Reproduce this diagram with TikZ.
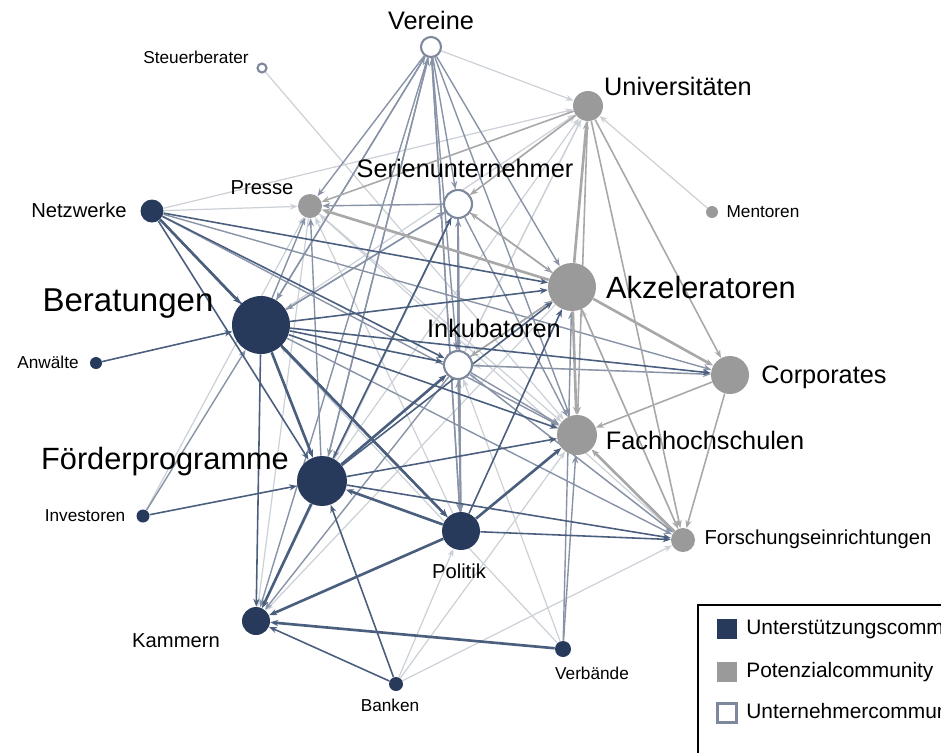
\documentclass[tikz,border=0pt]{standalone}
\usepackage{fontspec}
\setmainfont{Liberation Sans}
\usepackage{tikz}
\usetikzlibrary{arrows.meta,backgrounds}

\definecolor{stuetz}{HTML}{273A5C}
\definecolor{potenz}{HTML}{9A9A9A}
\definecolor{ring}{HTML}{7D889C}
\definecolor{edark}{HTML}{4A5E7E}
\definecolor{emid}{HTML}{8893A7}
\definecolor{egray}{HTML}{A8A8A8}
\definecolor{elight}{HTML}{CCD1D8}

\tikzset{
  dnode/.style={circle, inner sep=0pt, fill=stuetz, minimum size=#1*0.02cm},
  gnode/.style={circle, inner sep=0pt, fill=potenz, minimum size=#1*0.02cm},
  onode/.style={circle, inner sep=0pt, fill=white, draw=ring, line width=1.2pt, minimum size=#1*0.02cm},
  lhuge/.style={font=\fontsize{18.8}{22}\selectfont, inner sep=0pt},
  lbig/.style={font=\fontsize{17.5}{20}\selectfont, inner sep=0pt},
  lmid/.style={font=\fontsize{14.4}{17}\selectfont, inner sep=0pt},
  lsmall/.style={font=\fontsize{11.5}{14}\selectfont, inner sep=0pt},
  llegend/.style={font=\fontsize{11.9}{14}\selectfont, inner sep=0pt, anchor=west},
  ltiny/.style={font=\fontsize{9.8}{12}\selectfont, inner sep=0pt},
  tip/.style={-{Stealth[length=4.5pt,width=3.5pt]}},
  eD/.style={tip, draw=edark, line width=0.9pt},
  eDD/.style={tip, draw=edark, line width=1.5pt},
  eM/.style={tip, draw=emid, line width=0.8pt},
  eG/.style={tip, draw=egray, line width=0.9pt},
  eGG/.style={tip, draw=egray, line width=1.5pt},
  eL/.style={tip, draw=elight, line width=0.7pt}
}

\begin{document}
\begin{tikzpicture}[x=0.02cm, y=-0.02cm]
  \clip (0,0) rectangle (941,752);

  % nodes
  \node[onode=20] (ver)  at (431,47)  {};
  \node[onode=9]  (steu) at (262,68)  {};
  \node[gnode=30] (uni)  at (588,106) {};
  \node[dnode=23] (netz) at (152,211) {};
  \node[gnode=24] (pres) at (310,206) {};
  \node[onode=28] (seri) at (458,204) {};
  \node[gnode=12] (ment) at (712,212) {};
  \node[gnode=48] (akz)  at (572,287) {};
  \node[dnode=58] (ber)  at (261,325) {};
  \node[onode=28] (ink)  at (458,365) {};
  \node[dnode=12] (anw)  at (96,363)  {};
  \node[gnode=38] (corp) at (730,375) {};
  \node[gnode=40] (fh)   at (577,435) {};
  \node[dnode=50] (foe)  at (322,481) {};
  \node[dnode=13] (inv)  at (143,516) {};
  \node[dnode=38] (pol)  at (461,531) {};
  \node[gnode=24] (fors) at (683,540) {};
  \node[dnode=28] (kam)  at (256,621) {};
  \node[dnode=16] (verb) at (563,649) {};
  \node[dnode=14] (bank) at (396,684) {};

  % labels
  \node[lmid]   (ver-l)  at (431,20)  {Vereine};
  \node[ltiny]  (steu-l) at (196,57)  {Steuerberater};
  \node[lmid]   (uni-l)  at (678,86)  {Universitäten};
  \node[lsmall] (netz-l) at (79,210)  {Netzwerke};
  \node[lsmall] (pres-l) at (262,188) {Presse};
  \node[lmid]   (seri-l) at (465,168) {Serienunternehmer};
  \node[ltiny]  (ment-l) at (763,212) {Mentoren};
  \node[lbig]   (akz-l)  at (701,287) {Akzeleratoren};
  \node[lhuge]  (ber-l)  at (128,304) {Beratungen};
  \node[lmid]   (ink-l)  at (494,328) {Inkubatoren};
  \node[ltiny]  (anw-l)  at (48,362)  {Anwälte};
  \node[lmid]   (corp-l) at (824,377) {Corporates};
  \node[lmid]   (fh-l)   at (705,440) {Fachhochschulen};
  \node[lbig]   (foe-l)  at (165,462) {Förderprogramme};
  \node[ltiny]  (inv-l)  at (85,516)  {Investoren};
  \node[lsmall] (pol-l)  at (459,571) {Politik};
  \node[lsmall] (fors-l) at (818,539) {Forschungseinrichtungen};
  \node[lsmall] (kam-l)  at (176,641) {Kammern};
  \node[ltiny]  (verb-l) at (592,673) {Verbände};
  \node[ltiny]  (bank-l) at (390,705) {Banken};

  % connectors
  \begin{scope}[on background layer]
    \foreach \a/\b in {steu/fh, netz/pres, netz/uni, inv/pres, ber/uni, foe/uni,
        pol/pres, verb/ink, verb/ber, bank/fors, bank/pol, bank/fh, pres/kam,
        seri/kam, akz/kam, ment/uni, uni/ink, corp/ink, fors/pres, fors/ink,
        fors/akz, pres/fh, ink/uni, ver/uni, seri/uni}
      \draw[eL] (\a) -- (\b);
    \foreach \a/\b in {ver/pres, ver/ber, ver/foe, ver/seri, ver/ink, ver/pol,
        ver/akz, ver/fh, ver/kam, seri/pres, seri/akz, seri/fh, seri/ber,
        seri/foe, seri/pol, ink/akz, ink/fh, ink/corp, ink/pol, ink/fors,
        ink/kam, netz/corp, netz/fh, inv/ber, ber/pres, ber/seri, ber/ver,
        ber/fors, foe/pres, foe/ver, pol/ink, pol/seri, pol/ver, verb/fh,
        verb/akz}
      \draw[eM] (\a) -- (\b);
    \draw[eM, line width=1.4pt] (seri) -- (ink);
    \foreach \a/\b in {uni/pres, uni/seri, uni/fh, uni/corp, uni/fors,
        akz/seri, akz/fors, akz/ink, corp/fh, corp/fors}
      \draw[eG] (\a) -- (\b);
    \foreach \a/\b in {akz/pres, akz/corp, akz/fh, fors/fh, akz/uni}
      \draw[eGG] (\a) -- (\b);
    \foreach \a/\b in {netz/foe, netz/pol, netz/ink, netz/akz, anw/ber,
        inv/foe, ber/ink, ber/fh, ber/akz, ber/corp, ber/kam, foe/fh,
        foe/akz, foe/seri, bank/foe, bank/kam, pol/akz, pol/fors, foe/fors}
      \draw[eD] (\a) -- (\b);
    \foreach \a/\b in {netz/ber, ber/pol, ber/foe, foe/ink, foe/kam,
        pol/foe, pol/kam, pol/fh, verb/kam}
      \draw[eDD] (\a) -- (\b);
  \end{scope}

  % legend (cut off at the picture's edge, as in the original)
  \draw[black, line width=0.8pt] (698,605) rectangle (990,790);
  \node[fill=stuetz, minimum size=20*0.02cm, inner sep=0pt] (sq1) at (727,629) {};
  \node[fill=potenz, minimum size=20*0.02cm, inner sep=0pt] (sq2) at (727,672) {};
  \node[fill=white, draw=ring, line width=1.2pt, minimum size=19*0.02cm, inner sep=0pt] (sq3) at (727,713) {};
  \node[llegend] (leg1) at (746,629) {Unterstützungscommunity};
  \node[llegend] (leg2) at (746,672) {Potenzialcommunity};
  \node[llegend] (leg3) at (746,713) {Unternehmercommunity};
\end{tikzpicture}
\end{document}
